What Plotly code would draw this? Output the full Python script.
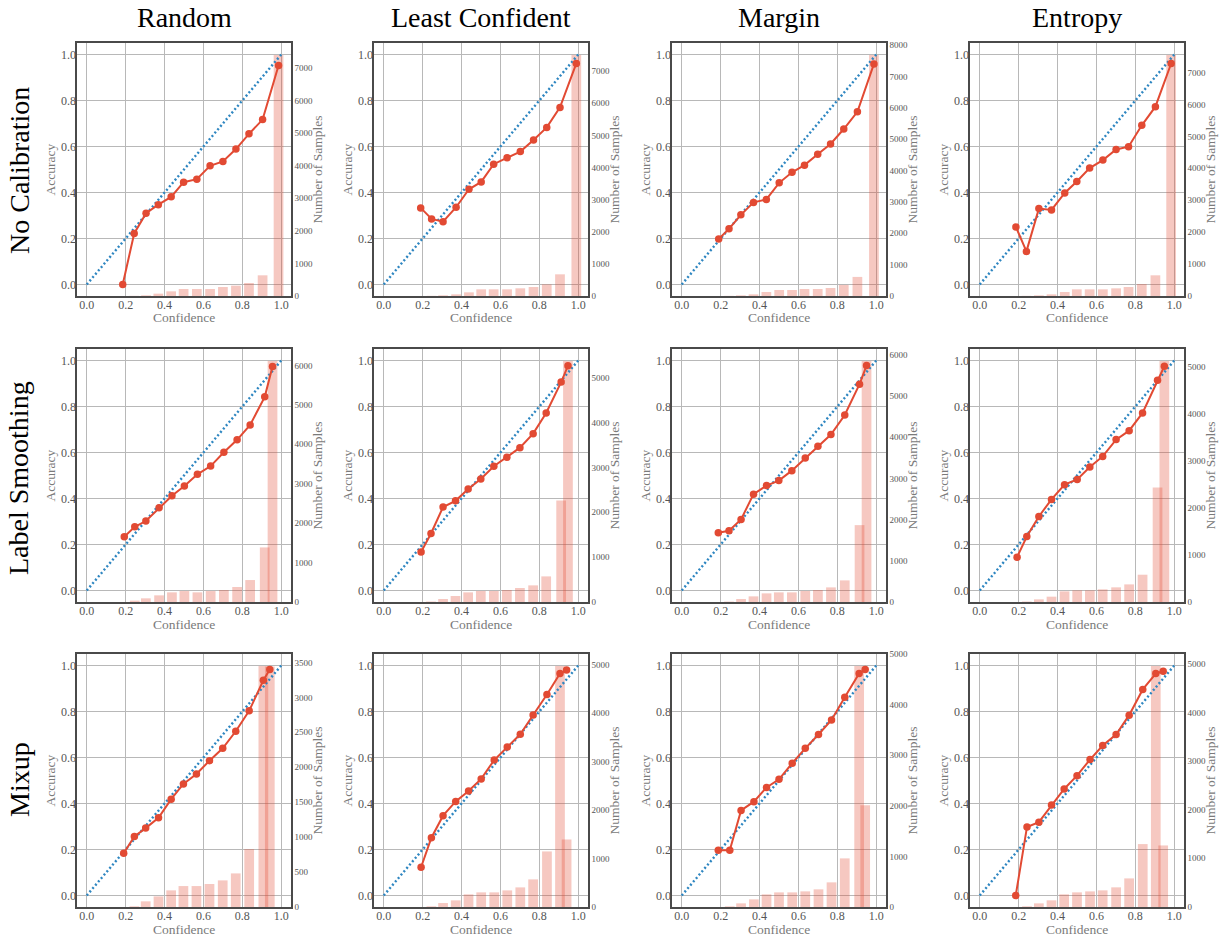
import plotly.graph_objects as go

# ---------------- data ----------------
methods = ["Random", "Least Confident", "Margin", "Entropy"]
calibrations = ["No Calibration", "Label Smoothing", "Mixup"]
x_ticks = [0.0, 0.2, 0.4, 0.6, 0.8, 1.0]
acc_ticks = [0.0, 0.2, 0.4, 0.6, 0.8, 1.0]

# No Calibration
conf_nc_random = [0.185, 0.244, 0.305, 0.368, 0.434, 0.498, 0.566, 0.634, 0.700, 0.767, 0.834, 0.904, 0.986]
acc_nc_random = [0.000, 0.222, 0.310, 0.347, 0.381, 0.445, 0.458, 0.516, 0.535, 0.589, 0.655, 0.717, 0.952]
count_nc_random = [0, 5, 20, 72, 143, 215, 215, 215, 277, 318, 400, 635, 7400]

conf_nc_least = [0.190, 0.246, 0.305, 0.372, 0.438, 0.501, 0.565, 0.634, 0.702, 0.770, 0.838, 0.906, 0.990]
acc_nc_least = [0.333, 0.285, 0.273, 0.336, 0.414, 0.446, 0.523, 0.551, 0.578, 0.628, 0.683, 0.770, 0.961]
count_nc_least = [0, 5, 20, 52, 114, 208, 208, 208, 239, 280, 363, 675, 7500]

conf_nc_margin = [0.190, 0.243, 0.304, 0.369, 0.435, 0.501, 0.567, 0.631, 0.699, 0.765, 0.833, 0.903, 0.988]
acc_nc_margin = [0.198, 0.242, 0.303, 0.357, 0.370, 0.442, 0.488, 0.519, 0.566, 0.611, 0.676, 0.751, 0.959]
count_nc_margin = [0, 5, 20, 53, 128, 192, 192, 224, 224, 256, 352, 608, 7680]

conf_nc_entropy = [0.186, 0.240, 0.304, 0.369, 0.437, 0.499, 0.565, 0.633, 0.701, 0.765, 0.833, 0.903, 0.984]
acc_nc_entropy = [0.250, 0.144, 0.330, 0.324, 0.398, 0.448, 0.506, 0.541, 0.587, 0.599, 0.692, 0.773, 0.961]
count_nc_entropy = [0, 5, 20, 52, 125, 209, 209, 209, 240, 282, 377, 648, 7550]

# Label Smoothing
conf_ls_random = [0.193, 0.247, 0.304, 0.372, 0.438, 0.502, 0.569, 0.637, 0.705, 0.773, 0.840, 0.915, 0.955]
acc_ls_random = [0.234, 0.277, 0.302, 0.360, 0.412, 0.454, 0.505, 0.541, 0.601, 0.655, 0.720, 0.842, 0.974]
count_ls_random = [0, 35, 93, 169, 245, 278, 245, 278, 304, 380, 557, 1384, 6110]

conf_ls_least = [0.192, 0.243, 0.305, 0.369, 0.434, 0.499, 0.566, 0.633, 0.700, 0.768, 0.835, 0.912, 0.947]
acc_ls_least = [0.167, 0.248, 0.363, 0.390, 0.441, 0.485, 0.540, 0.579, 0.621, 0.682, 0.772, 0.906, 0.977]
count_ls_least = [0, 10, 67, 134, 215, 245, 245, 267, 312, 371, 571, 2263, 5370]

conf_ls_margin = [0.188, 0.243, 0.305, 0.369, 0.436, 0.499, 0.566, 0.635, 0.700, 0.767, 0.838, 0.914, 0.950]
acc_ls_margin = [0.251, 0.260, 0.309, 0.419, 0.456, 0.478, 0.521, 0.576, 0.627, 0.678, 0.763, 0.897, 0.978]
count_ls_margin = [0, 10, 73, 137, 210, 234, 234, 267, 291, 355, 525, 1866, 5850]

conf_ls_entropy = [0.192, 0.242, 0.304, 0.369, 0.436, 0.501, 0.566, 0.632, 0.701, 0.768, 0.837, 0.914, 0.949]
acc_ls_entropy = [0.145, 0.235, 0.322, 0.396, 0.460, 0.483, 0.537, 0.583, 0.656, 0.695, 0.772, 0.914, 0.975]
count_ls_entropy = [0, 10, 56, 113, 226, 247, 247, 268, 311, 374, 579, 2430, 5113]

# Mixup
conf_mx_random = [0.190, 0.245, 0.303, 0.369, 0.434, 0.497, 0.564, 0.631, 0.699, 0.766, 0.835, 0.908, 0.941]
acc_mx_random = [0.184, 0.257, 0.293, 0.338, 0.419, 0.485, 0.528, 0.586, 0.640, 0.714, 0.803, 0.936, 0.983]
count_mx_random = [0, 10, 81, 152, 238, 300, 300, 329, 381, 481, 829, 3448, 3440]

conf_mx_least = [0.192, 0.245, 0.305, 0.370, 0.436, 0.501, 0.568, 0.635, 0.702, 0.768, 0.839, 0.906, 0.940]
acc_mx_least = [0.123, 0.251, 0.347, 0.409, 0.454, 0.507, 0.589, 0.646, 0.701, 0.785, 0.874, 0.965, 0.980]
count_mx_least = [0, 14, 82, 137, 261, 302, 302, 343, 405, 570, 1147, 4973, 1394]

conf_mx_margin = [0.188, 0.247, 0.305, 0.371, 0.436, 0.500, 0.568, 0.635, 0.703, 0.770, 0.838, 0.912, 0.943]
acc_mx_margin = [0.197, 0.197, 0.370, 0.408, 0.470, 0.505, 0.575, 0.640, 0.700, 0.763, 0.862, 0.965, 0.983]
count_mx_margin = [0, 13, 72, 151, 250, 289, 289, 309, 349, 487, 961, 4763, 2013]

conf_mx_entropy = [0.185, 0.243, 0.304, 0.369, 0.434, 0.500, 0.567, 0.632, 0.701, 0.768, 0.838, 0.905, 0.943]
acc_mx_entropy = [0.000, 0.298, 0.319, 0.393, 0.463, 0.521, 0.591, 0.652, 0.700, 0.784, 0.896, 0.965, 0.975]
count_mx_entropy = [0, 14, 75, 137, 260, 301, 321, 342, 404, 588, 1293, 4952, 1265]

count_dtick = [[1000, 1000, 1000, 1000], [1000, 1000, 1000, 1000], [500, 1000, 1000, 1000]]

panels = [
    [(conf_nc_random, acc_nc_random, count_nc_random),
     (conf_nc_least, acc_nc_least, count_nc_least),
     (conf_nc_margin, acc_nc_margin, count_nc_margin),
     (conf_nc_entropy, acc_nc_entropy, count_nc_entropy)],
    [(conf_ls_random, acc_ls_random, count_ls_random),
     (conf_ls_least, acc_ls_least, count_ls_least),
     (conf_ls_margin, acc_ls_margin, count_ls_margin),
     (conf_ls_entropy, acc_ls_entropy, count_ls_entropy)],
    [(conf_mx_random, acc_mx_random, count_mx_random),
     (conf_mx_least, acc_mx_least, count_mx_least),
     (conf_mx_margin, acc_mx_margin, count_mx_margin),
     (conf_mx_entropy, acc_mx_entropy, count_mx_entropy)],
]

# ---------------- style / layout ----------------
W, H = 1225, 937
col_left = [77, 374, 672, 970]
col_w = 214
row_top = [43, 349, 654]
row_h = 253

RED = "#E24A33"
BLUE = "#2E86C1"
BAR = "rgba(226,74,51,0.30)"
GRID = "#b8b8b8"
FRAME = "#4a4a4a"
TICKC = "#555555"
LABC = "#7a7a7a"
FONT = "Liberation Serif, Times New Roman, serif"

fig = go.Figure()
layout = dict(
    width=W, height=H,
    margin=dict(l=0, r=0, t=0, b=0, autoexpand=False),
    paper_bgcolor="white", plot_bgcolor="white",
    showlegend=False,
    font=dict(family=FONT),
)
annotations = []


def px_x(p):
    return p / W


def px_y(p):
    return 1 - p / H


for r in range(3):
    for c in range(4):
        k = r * 4 + c + 1
        conf, acc, cnt = panels[r][c]
        xref = "x" if k == 1 else f"x{k}"
        xname = "xaxis" if k == 1 else f"xaxis{k}"
        ycnt_ref = "y" if k == 1 else f"y{k}"
        ycnt_name = "yaxis" if k == 1 else f"yaxis{k}"
        yacc_ref = f"y{k + 12}"
        yacc_name = f"yaxis{k + 12}"

        x0, x1 = col_left[c], col_left[c] + col_w
        yt, yb = row_top[r], row_top[r] + row_h

        bar_x = [cf for cf, n in zip(conf, cnt) if n > 0]
        bar_y = [n for n in cnt if n > 0]
        fig.add_trace(go.Bar(
            x=bar_x, y=bar_y, width=0.05,
            marker=dict(color=BAR, line=dict(width=0)),
            xaxis=xref, yaxis=ycnt_ref, hoverinfo="skip",
        ))
        fig.add_trace(go.Scatter(
            x=[0, 1], y=[0, 1], mode="lines",
            line=dict(color=BLUE, width=2.4, dash="2px,2.4px"),
            xaxis=xref, yaxis=yacc_ref, hoverinfo="skip",
        ))
        fig.add_trace(go.Scatter(
            x=conf, y=acc, mode="lines+markers",
            line=dict(color=RED, width=2),
            marker=dict(color=RED, size=7.5),
            xaxis=xref, yaxis=yacc_ref,
        ))

        cmax = max(cnt) * 1.05
        layout[xname] = dict(
            domain=[px_x(x0), px_x(x1)], anchor=ycnt_ref,
            range=[-0.05, 1.05], tickvals=x_ticks,
            ticktext=[f"{v:.1f}" for v in x_ticks],
            showgrid=True, gridcolor=GRID, gridwidth=1,
            showline=True, mirror=True, linecolor=FRAME, linewidth=1.6,
            zeroline=False, ticks="", ticklabelstandoff=-3,
            tickfont=dict(family=FONT, size=12, color=TICKC),
            fixedrange=True, automargin=False,
        )
        layout[ycnt_name] = dict(
            domain=[px_y(yb), px_y(yt)], anchor=xref, side="right",
            range=[0, cmax], dtick=count_dtick[r][c], tick0=0,
            showgrid=False, showline=True, mirror=True,
            linecolor=FRAME, linewidth=1.6, zeroline=False, ticks="",
            tickformat="d",
            tickfont=dict(family=FONT, size=9, color=TICKC),
            fixedrange=True, automargin=False,
        )
        layout[yacc_name] = dict(
            overlaying=ycnt_ref, anchor=xref, side="left",
            range=[-0.05, 1.05], tickvals=acc_ticks,
            ticktext=[f"{v:.1f}" for v in acc_ticks],
            showgrid=True, gridcolor=GRID, gridwidth=1,
            showline=False, zeroline=False, ticks="",
            tickfont=dict(family=FONT, size=12, color=TICKC),
            fixedrange=True, automargin=False,
        )

        # axis titles
        annotations.append(dict(
            text="Accuracy", xref="paper", yref="paper",
            x=px_x(x0 - 27), y=px_y((yt + yb) / 2), textangle=-90,
            showarrow=False, xanchor="center", yanchor="middle",
            font=dict(family=FONT, size=13.5, color=LABC)))
        annotations.append(dict(
            text="Confidence", xref="paper", yref="paper",
            x=px_x((x0 + x1) / 2), y=px_y(yb + 22),
            showarrow=False, xanchor="center", yanchor="middle",
            font=dict(family=FONT, size=13.5, color=LABC)))
        annotations.append(dict(
            text="Number of Samples", xref="paper", yref="paper",
            x=px_x(x1 + 26), y=px_y((yt + yb) / 2), textangle=-90,
            showarrow=False, xanchor="center", yanchor="middle",
            font=dict(family=FONT, size=13.5, color=LABC)))

for c, m in enumerate(methods):
    annotations.append(dict(
        text=m, xref="paper", yref="paper",
        x=px_x(col_left[c] + col_w / 2), y=px_y(18),
        showarrow=False, xanchor="center", yanchor="middle",
        font=dict(family=FONT, size=28, color="black")))

row_centers = [171, 478, 780]
for r, lab in enumerate(calibrations):
    annotations.append(dict(
        text=lab, xref="paper", yref="paper",
        x=px_x(19), y=px_y(row_centers[r]), textangle=-90,
        showarrow=False, xanchor="center", yanchor="middle",
        font=dict(family=FONT, size=28, color="black")))

layout["annotations"] = annotations
fig.update_layout(**layout)
fig.write_html(
    "out.html",
    config={"displayModeBar": False},
    post_script="document.body.style.margin='0';document.body.style.padding='0';"
                "document.body.style.overflow='hidden';",
)
